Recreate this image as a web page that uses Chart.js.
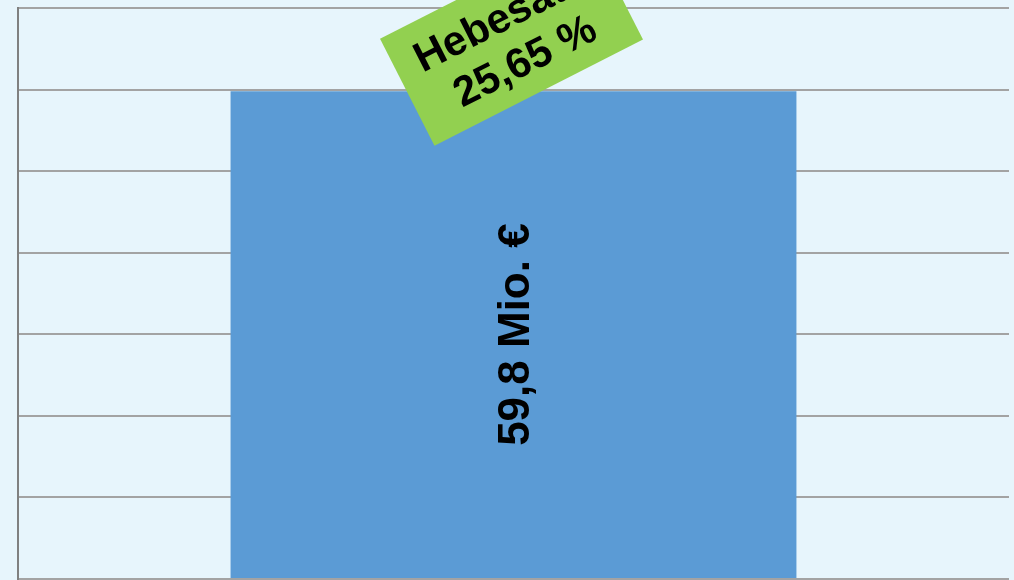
<!DOCTYPE html>
<html>
<head>
<meta charset="utf-8">
<script src="https://cdn.jsdelivr.net/npm/chart.js@4"></script>
<style>
  html, body { margin: 0; padding: 0; background: #E7F5FC; overflow: hidden; }
  canvas { display: block; }
</style>
</head>
<body>
<canvas id="steuerChart" width="1014" height="580"></canvas>
<script>
// Data
const categories = ["Gewerbesteuer"];
const values = [59.8];
const valueLabels = ["59,8 Mio. €"];
const noteLines = ["Hebesatz", "25,65 %"];

// Draw the text inside the bar, rotated
const barTextPlugin = {
  id: "barText",
  afterDatasetsDraw(chart) {
    const ctx = chart.ctx;
    const meta = chart.getDatasetMeta(0);
    meta.data.forEach((bar, i) => {
      const midY = (bar.y + bar.base) / 2;
      ctx.save();
      ctx.translate(bar.x + 3, midY);
      ctx.rotate(-Math.PI / 2);
      ctx.fillStyle = "#000";
      ctx.font = "bold 44px 'Liberation Sans', Arial, sans-serif";
      ctx.textAlign = "center";
      ctx.textBaseline = "middle";
      ctx.fillText(valueLabels[i], 0, 0);
      ctx.restore();
    });
  }
};

// Green tilted note over the top of the bar
const notePlugin = {
  id: "note",
  afterDraw(chart) {
    const ctx = chart.ctx;
    const bar = chart.getDatasetMeta(0).data[0];
    const cx = bar.x - 2;
    const cy = bar.y - 52;
    ctx.save();
    ctx.translate(cx, cy);
    ctx.rotate(-27 * Math.PI / 180);
    ctx.fillStyle = "#92D050";
    ctx.fillRect(-117, -60, 234, 120);
    ctx.fillStyle = "#000";
    ctx.font = "bold 42px 'Liberation Sans', Arial, sans-serif";
    ctx.textAlign = "center";
    ctx.textBaseline = "middle";
    ctx.fillText(noteLines[0], -2, -22);
    ctx.fillText(noteLines[1], 2, 27);
    ctx.restore();
  }
};

const ctx = document.getElementById("steuerChart").getContext("2d");
new Chart(ctx, {
  type: "bar",
  data: {
    labels: categories,
    datasets: [
      {
        label: "Gewerbesteuer",
        data: values,
        backgroundColor: "#5B9BD5",
        borderWidth: 0,
        categoryPercentage: 1,
        barPercentage: 0.571,
      },
    ],
  },
  options: {
    responsive: false,
    animation: false,
    layout: { padding: { left: 18, top: 8, right: 5, bottom: 1 } },
    plugins: {
      legend: { display: false },
      tooltip: { enabled: false },
    },
    scales: {
      x: { display: false },
      y: {
        min: 0,
        max: 70,
        ticks: { display: false, stepSize: 10 },
        grid: { color: "#A3A3A3", lineWidth: 2, drawTicks: false },
        border: { color: "#808080", width: 2 },
      },
    },
  },
  plugins: [barTextPlugin, notePlugin],
});
</script>
</body>
</html>
